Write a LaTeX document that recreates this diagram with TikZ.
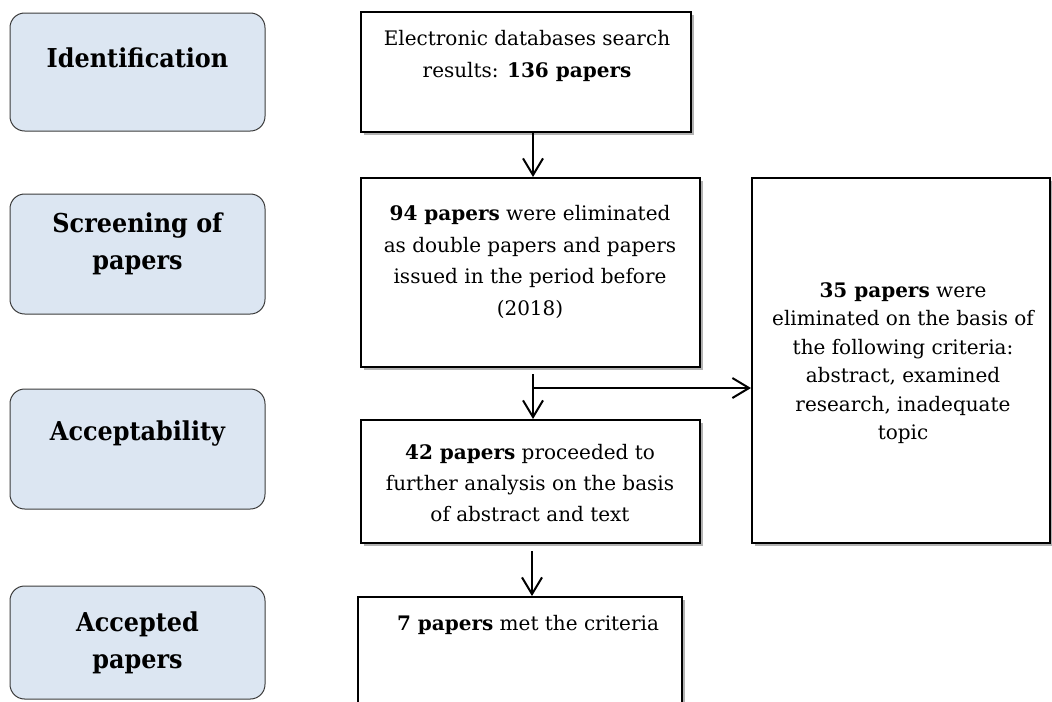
\documentclass[tikz,border=0pt]{standalone}
\usepackage{fontspec}
\setmainfont{DejaVu Serif}
\newfontfamily\stagefont[FakeStretch=0.92]{DejaVu Serif}
\usetikzlibrary{arrows.meta,shadows}
\definecolor{stagefill}{RGB}{220,230,242}
\definecolor{stageline}{RGB}{60,60,60}
\begin{document}
\begin{tikzpicture}[x=0.75pt,y=-0.75pt,
  stage/.style={draw=stageline, line width=0.75pt, fill=stagefill, rounded corners=11pt, inner sep=0pt, minimum width=191.25pt},
  mbox/.style={draw=black, line width=1.5pt, fill=white, inner sep=0pt,
    drop shadow={shadow xshift=2pt, shadow yshift=-2pt, opacity=0.3, fill=black}},
  stagetext/.style={font=\stagefont\fontsize{19.5}{28}\selectfont\bfseries, align=center, inner sep=0pt},
  boxtext/.style={font=\fontsize{15}{23.6}\selectfont, align=center, inner sep=0pt},
  sidetext/.style={font=\fontsize{15}{21.4}\selectfont, align=center, inner sep=0pt},
  flow/.style={line width=1.5pt, -{Straight Barb[length=12.5pt,width=15pt,line width=1.5pt]}},
]
\useasboundingbox (0,0) rectangle (1052,701);

% stage boxes
\node[stage, minimum height=88.5pt] (sIdent) at (137.5,72) {};
\node[stage, minimum height=90pt] (sScreen) at (137.5,254) {};
\node[stage, minimum height=90pt] (sAccept) at (137.5,449) {};
\node[stage, minimum height=84.75pt] (sAccepted) at (137.5,642.5) {};

\node[stagetext] (tIdent) at (137.5,58) {Identification};
\node[stagetext] (tScreen) at (137.5,244) {Screening of\\papers};
\node[stagetext] (tAccept) at (137.5,433) {Acceptability};
\node[stagetext] (tAccepted) at (137.5,643) {Accepted\\papers};

% main boxes
\node[mbox, minimum width=247.5pt, minimum height=90pt] (b1) at (526,72) {};
\node[mbox, minimum width=254.25pt, minimum height=141.75pt] (b2) at (530.5,272.5) {};
\node[mbox, minimum width=254.25pt, minimum height=92.25pt] (b3) at (530.5,481.5) {};
\node[mbox, minimum width=243pt, minimum height=92.25pt] (b4) at (520,658.5) {};
\node[mbox, minimum width=223.5pt, minimum height=273.75pt] (r) at (901,360.5) {};

\node[boxtext] (t1) at (527,56) {Electronic databases search\\results: \textbf{136 papers}};
\node[boxtext] (t2) at (530,262) {\textbf{94 papers} were eliminated\\as double papers and papers\\issued in the period before\\(2018)};
\node[boxtext] (t3) at (530,483) {\textbf{42 papers} proceeded to\\further analysis on the basis\\of abstract and text};
\node[boxtext] (t4) at (528,625) {\textbf{7 papers} met the criteria};
\node[sidetext] (tr) at (903,363) {\textbf{35 papers} were\\eliminated on the basis of\\the following criteria:\\abstract, examined\\research, inadequate\\topic};

% connectors
\draw[flow] ([xshift=5.25pt]b1.south) -- ([xshift=1.875pt]b2.north);
\draw[flow] ([xshift=1.875pt,yshift=-4.5pt]b2.south) -- ([xshift=1.875pt]b3.north);
\coordinate (j) at (533,388);
\draw[flow] (j) -- (j -| r.west);
\draw[flow] ([xshift=1.125pt,yshift=-5.25pt]b3.south) -- ([xshift=9pt]b4.north);
\end{tikzpicture}
\end{document}
